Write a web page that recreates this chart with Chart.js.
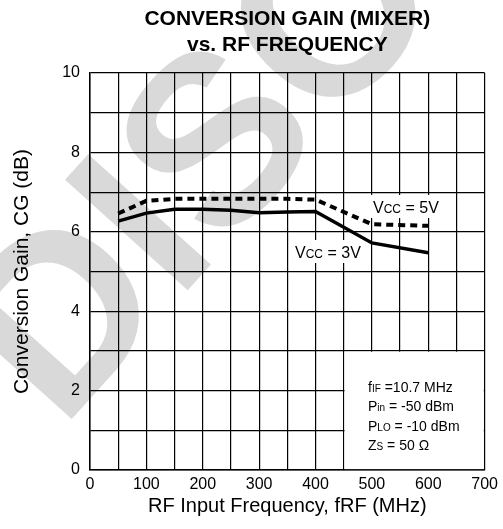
<!DOCTYPE html>
<html>
<head>
<meta charset="utf-8">
<script src="https://cdn.jsdelivr.net/npm/chart.js"></script>
<style>
  html, body { margin: 0; padding: 0; background: #fff; }
  #wrap { width: 503px; height: 529px; }
</style>
</head>
<body>
<div id="wrap"><canvas id="gainChart"></canvas></div>
<script>
// RF frequency (MHz) and conversion gain (dB)
const freqMHz = [50, 100, 150, 200, 250, 300, 350, 400, 500, 600];
const gain3V = [6.27, 6.47, 6.57, 6.57, 6.54, 6.48, 6.50, 6.51, 5.72, 5.47];
const gain5V = [6.46, 6.78, 6.83, 6.83, 6.83, 6.83, 6.83, 6.81, 6.19, 6.15];

const titleLines = ["CONVERSION GAIN (MIXER)", "vs. RF FREQUENCY"];
const xTitle = "RF Input Frequency, fRF (MHz)";
const yTitle = "Conversion Gain, CG (dB)";
const conditions = [
    [["f", 14], ["IF", 10], [" =10.7 MHz", 14]],
    [["P", 14], ["in", 10], [" = -50 dBm", 14]],
    [["P", 14], ["LO", 10], [" = -10 dBm", 14]],
    [["Z", 14], ["S", 10], [" = 50 \u03A9", 14]],
];
const label5V = [["V", 16], ["CC", 12], [" = 5V", 16]];
const label3V = [["V", 16], ["CC", 12], [" = 3V", 16]];

const FONT = "'Liberation Sans', Arial, sans-serif";

function toPoints(ys) {
    return freqMHz.map((f, i) => ({ x: f, y: ys[i] }));
}

// text with smaller subscript letters on the same baseline
function richWidth(ctx, parts) {
    let w = 0;
    parts.forEach(([t, s]) => { ctx.font = s + "px " + FONT; w += ctx.measureText(t).width; });
    return w;
}
function drawRich(ctx, x, y, parts) {
    ctx.textBaseline = "alphabetic";
    ctx.textAlign = "left";
    ctx.fillStyle = "#000";
    parts.forEach(([t, s]) => {
        ctx.font = s + "px " + FONT;
        ctx.fillText(t, x, y);
        x += ctx.measureText(t).width;
    });
}

const watermark = {
    id: "watermark",
    beforeDraw(chart) {
        const ctx = chart.ctx;
        ctx.save();
        ctx.fillStyle = "#fff";
        ctx.fillRect(0, 0, chart.width, chart.height);
        ctx.translate(61, 431);
        ctx.rotate(-48 * Math.PI / 180);
        ctx.font = "bold 240px " + FONT;
        ctx.fillStyle = "#d9d9d9";
        ctx.textBaseline = "alphabetic";
        ctx.fillText("DISCONTINUED", 0, 0);
        ctx.restore();
    },
};

const annotations = {
    id: "annotations",
    beforeDatasetsDraw(chart) {
        const { ctx, scales: { x, y }, chartArea } = chart;
        ctx.save();
        // white box for the test conditions
        ctx.fillStyle = "#fff";
        const bx0 = x.getPixelForValue(450) + 0.8, bx1 = x.getPixelForValue(700) - 0.9;
        const by0 = y.getPixelForValue(3) + 0.8, by1 = y.getPixelForValue(0) - 0.9;
        ctx.fillRect(bx0, by0, bx1 - bx0, by1 - by0);

        // curve labels with white background
        [[label5V, 373, 213], [label3V, 295, 258]].forEach(([parts, lx, ly]) => {
            const w = richWidth(ctx, parts);
            ctx.fillStyle = "#fff";
            ctx.fillRect(lx - 6, ly - 18, w + 11, 23);
            drawRich(ctx, lx, ly, parts);
        });

        conditions.forEach((parts, i) => drawRich(ctx, 368, 392 + i * 19.3, parts));

        // title centred over the plot area
        ctx.font = "bold 21px " + FONT;
        ctx.fillStyle = "#000";
        ctx.textAlign = "center";
        ctx.textBaseline = "middle";
        const cx = (chartArea.left + chartArea.right) / 2;
        titleLines.forEach((t, i) => ctx.fillText(t, cx, 19 + i * 26));
        ctx.restore();
    },
};

new Chart(document.getElementById("gainChart"), {
    type: "line",
    data: {
        datasets: [
            {
                label: "VCC = 3V",
                data: toPoints(gain3V),
                borderColor: "#000",
                borderWidth: 3.5,
                pointRadius: 0,
                tension: 0,
            },
            {
                label: "VCC = 5V",
                data: toPoints(gain5V),
                borderColor: "#000",
                borderWidth: 4,
                borderDash: [7, 5],
                pointRadius: 0,
                tension: 0,
            },
        ],
    },
    options: {
        responsive: true,
        maintainAspectRatio: false,
        animation: false,
        layout: { padding: { top: 73, right: 16, bottom: 0, left: 0 } },
        plugins: {
            legend: { display: false },
            tooltip: { enabled: false },
        },
        scales: {
            x: {
                type: "linear",
                min: 0,
                max: 700,
                afterFit: (s) => { s.height = 59; },
                ticks: {
                    stepSize: 50,
                    autoSkip: false,
                    maxRotation: 0,
                    padding: 5,
                    color: "#000",
                    font: { family: FONT, size: 16 },
                    callback: (v) => (v % 100 === 0 ? v : ""),
                },
                grid: { color: "#000", lineWidth: 1.2, drawTicks: false },
                border: { color: "#000", width: 1.5 },
                title: {
                    display: true,
                    text: xTitle,
                    color: "#000",
                    font: { family: FONT, size: 20 },
                    padding: { top: 0, bottom: 11 },
                },
            },
            y: {
                min: 0,
                max: 10,
                afterFit: (s) => { s.width = 90; },
                ticks: {
                    stepSize: 1,
                    autoSkip: false,
                    padding: 10,
                    color: "#000",
                    font: { family: FONT, size: 16 },
                    callback: (v) => (v % 2 === 0 ? v : ""),
                },
                grid: { color: "#000", lineWidth: 1.2, drawTicks: false },
                border: { color: "#000", width: 1.5 },
                title: {
                    display: true,
                    text: yTitle,
                    color: "#000",
                    font: { family: FONT, size: 21 },
                    padding: { top: 10, bottom: 0 },
                },
            },
        },
    },
    plugins: [watermark, annotations],
});
</script>
</body>
</html>
